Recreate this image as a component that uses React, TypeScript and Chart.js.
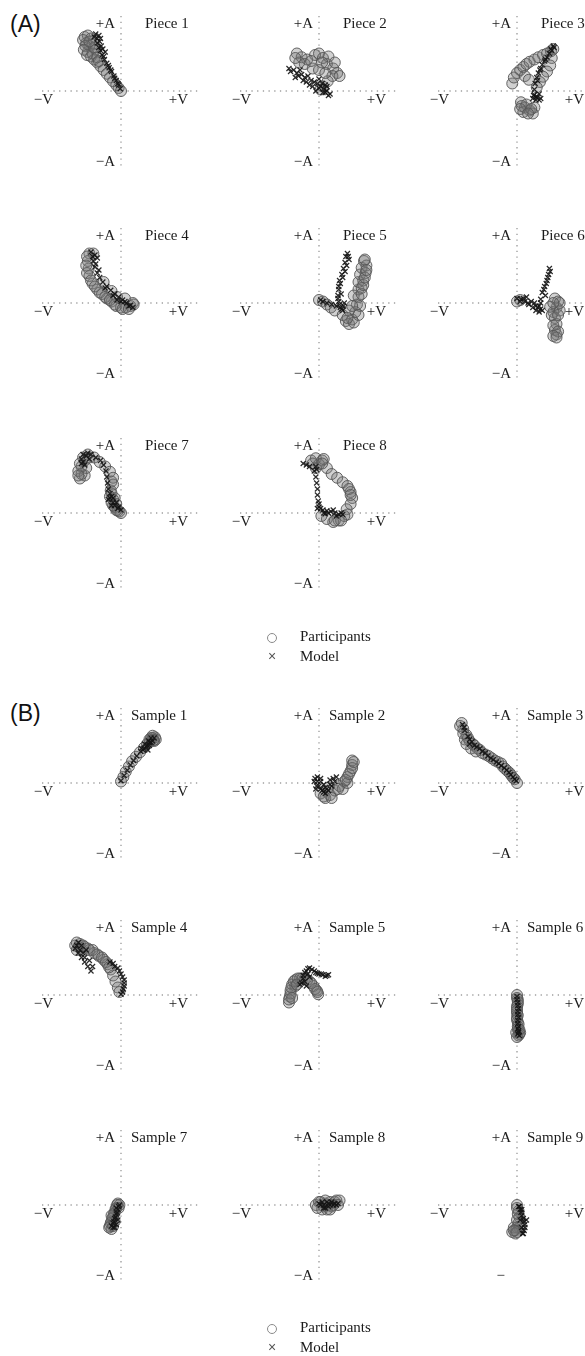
import React, { useEffect, useRef } from 'react';
import { Chart, registerables } from 'chart.js';

Chart.register(...registerables);

// ---- Data: [valence, arousal] pairs, each axis in -1..1 ----
const piece1P = [[-0.46,0.72],[-0.42,0.74],[-0.38,0.7],[-0.44,0.64],[-0.4,0.6],[-0.42,0.52],[-0.38,0.46],[-0.34,0.42],[-0.3,0.38],[-0.26,0.33],[-0.22,0.28],[-0.18,0.23],[-0.14,0.18],[-0.1,0.13],[-0.06,0.08],[-0.03,0.04],[0,0],[-0.36,0.62],[-0.32,0.55],[-0.48,0.68],[-0.45,0.6],[-0.47,0.55],[-0.43,0.48],[-0.36,0.5],[-0.34,0.58],[-0.4,0.66],[-0.3,0.45],[-0.28,0.4]];
const piece1M = [[-0.34,0.72],[-0.3,0.7],[-0.27,0.66],[-0.25,0.6],[-0.26,0.54],[-0.24,0.48],[-0.21,0.42],[-0.18,0.37],[-0.15,0.31],[-0.12,0.26],[-0.09,0.2],[-0.06,0.14],[-0.03,0.08],[-0.01,0.03],[-0.3,0.64],[-0.2,0.52],[-0.32,0.76],[-0.28,0.74],[-0.26,0.7],[-0.23,0.56],[-0.28,0.58],[-0.22,0.46],[-0.16,0.34],[-0.13,0.28],[-0.08,0.17],[-0.04,0.1]];

const piece2P = [[-0.28,0.5],[-0.22,0.45],[-0.15,0.42],[-0.05,0.48],[0.0,0.5],[0.05,0.44],[0.1,0.36],[0.18,0.3],[0.23,0.24],[0.17,0.2],[0.11,0.13],[0.05,0.06],[0.02,0.02],[-0.18,0.36],[-0.08,0.3],[0.0,0.28],[-0.25,0.38],[-0.3,0.44],[0.12,0.46],[0.2,0.38],[0.26,0.2],[0.08,0.24],[-0.1,0.4],[0.04,0.38]];
const piece2M = [[-0.38,0.3],[-0.32,0.28],[-0.28,0.24],[-0.22,0.22],[-0.18,0.18],[-0.14,0.2],[-0.1,0.14],[-0.06,0.12],[-0.02,0.1],[0.02,0.06],[0.06,0.03],[0.1,0.0],[0.14,-0.04],[0.05,-0.02],[-0.12,0.08],[-0.2,0.14],[-0.3,0.18],[0.0,0.16],[0.08,0.08],[-0.36,0.26],[-0.26,0.2],[-0.16,0.12],[-0.08,0.06],[0.0,0.04],[0.08,-0.02],[0.12,-0.06],[-0.04,0.0],[0.04,0.1],[-0.24,0.28],[0.1,0.06]];

const piece3P = [[-0.06,0.1],[-0.04,0.18],[0.0,0.24],[0.04,0.28],[0.08,0.32],[0.12,0.36],[0.16,0.39],[0.22,0.42],[0.27,0.45],[0.33,0.48],[0.38,0.5],[0.43,0.53],[0.46,0.56],[0.44,0.44],[0.42,0.34],[0.38,0.26],[0.33,0.19],[0.29,0.12],[0.25,0.05],[0.1,0.2],[0.15,0.15],[0.05,-0.15],[0.1,-0.22],[0.16,-0.26],[0.22,-0.22],[0.08,-0.28],[0.2,-0.3],[0.06,-0.2],[0.12,-0.18],[0.18,-0.24],[0.04,-0.24],[0.14,-0.3]];
const piece3M = [[0.47,0.58],[0.44,0.54],[0.41,0.5],[0.38,0.45],[0.35,0.4],[0.32,0.35],[0.3,0.3],[0.27,0.24],[0.25,0.18],[0.23,0.1],[0.22,0.02],[0.22,-0.05],[0.26,-0.08],[0.3,-0.1],[0.24,-0.12],[0.28,-0.04],[0.2,-0.1],[0.46,0.6],[0.43,0.56],[0.36,0.42],[0.29,0.28],[0.26,0.14],[0.24,-0.08],[0.28,-0.12],[0.21,-0.06]];

const piece4P = [[-0.4,0.66],[-0.35,0.66],[-0.42,0.56],[-0.41,0.46],[-0.4,0.36],[-0.36,0.26],[-0.3,0.18],[-0.24,0.12],[-0.18,0.06],[-0.12,0.02],[-0.06,-0.04],[0.0,-0.06],[0.06,-0.06],[0.12,-0.04],[0.15,0.0],[-0.22,0.28],[-0.12,0.16],[-0.05,0.08],[0.05,0.06],[-0.43,0.62],[-0.44,0.5],[-0.43,0.4],[-0.38,0.3],[-0.33,0.22],[-0.27,0.14],[-0.2,0.08],[-0.14,0.04],[-0.08,-0.02],[0.02,-0.08],[0.1,-0.08],[0.16,-0.02]];
const piece4M = [[-0.38,0.68],[-0.33,0.64],[-0.35,0.56],[-0.33,0.48],[-0.3,0.4],[-0.27,0.34],[-0.23,0.28],[-0.18,0.22],[-0.13,0.17],[-0.08,0.12],[-0.03,0.08],[0.02,0.04],[0.07,0.0],[0.12,-0.03],[0.15,-0.06],[-0.1,0.1],[-0.05,0.04],[-0.36,0.62],[-0.3,0.6],[-0.32,0.52],[-0.28,0.44],[-0.2,0.2],[0.0,0.02],[0.1,-0.04],[0.05,0.02]];

const piece5P = [[0.0,0.04],[0.05,0.02],[0.1,-0.02],[0.15,-0.06],[0.2,-0.1],[0.3,-0.16],[0.34,-0.24],[0.38,-0.28],[0.42,-0.22],[0.46,-0.12],[0.48,-0.02],[0.5,0.08],[0.5,0.18],[0.5,0.28],[0.52,0.38],[0.54,0.47],[0.57,0.56],[0.6,0.5],[0.59,0.4],[0.56,0.3],[0.54,0.2],[0.44,0.1],[0.38,-0.1],[0.52,-0.04],[0.5,-0.16],[0.44,-0.26],[0.36,-0.2],[0.54,0.12],[0.56,0.24],[0.58,0.34],[0.6,0.44],[0.58,0.58],[0.42,-0.04]];
const piece5M = [[0.36,0.66],[0.38,0.58],[0.35,0.5],[0.33,0.42],[0.3,0.34],[0.27,0.26],[0.25,0.18],[0.24,0.1],[0.25,0.02],[0.27,-0.06],[0.3,-0.1],[0.22,-0.04],[0.16,-0.02],[0.1,0.0],[0.05,0.02],[0.02,0.04],[0.32,0.0],[0.28,0.12],[0.34,0.62],[0.37,0.62],[0.33,0.54],[0.31,0.46],[0.29,0.38],[0.26,0.3],[0.25,0.22],[0.26,-0.02],[0.29,-0.08],[0.24,0.06],[0.31,-0.04]];

const piece6P = [[0.0,0.02],[0.04,0.04],[0.48,0.06],[0.52,0.02],[0.5,-0.06],[0.46,-0.12],[0.48,-0.2],[0.5,-0.28],[0.48,-0.36],[0.5,-0.42],[0.44,-0.16],[0.54,-0.1],[0.42,-0.05],[0.52,-0.16],[0.46,-0.3],[0.52,-0.38],[0.46,-0.44],[0.5,-0.46],[0.54,0.0],[0.46,0.0]];
const piece6M = [[0.0,0.06],[0.05,0.05],[0.1,0.02],[0.15,-0.02],[0.2,-0.06],[0.24,-0.1],[0.28,-0.12],[0.28,-0.04],[0.3,0.05],[0.32,0.14],[0.35,0.22],[0.38,0.3],[0.4,0.38],[0.42,0.42],[0.3,-0.08],[0.22,0.0],[0.12,0.08],[0.36,0.1],[0.04,0.02],[0.08,0.06],[0.18,0.02],[0.26,-0.06],[0.32,-0.1],[0.34,0.18],[0.37,0.26],[0.39,0.34],[0.41,0.46],[0.24,-0.04],[0.14,0.0],[0.3,0.0]];

const piece7P = [[-0.52,0.46],[-0.54,0.56],[-0.52,0.66],[-0.48,0.74],[-0.42,0.78],[-0.34,0.74],[-0.27,0.68],[-0.2,0.62],[-0.14,0.55],[-0.1,0.47],[-0.1,0.38],[-0.13,0.3],[-0.14,0.22],[-0.12,0.14],[-0.08,0.08],[-0.04,0.03],[0,0],[-0.46,0.5],[-0.44,0.6],[-0.08,0.2],[-0.5,0.52],[-0.5,0.62],[-0.46,0.7],[-0.54,0.5],[-0.4,0.74],[-0.12,0.42],[-0.12,0.26],[-0.1,0.18],[-0.06,0.12],[-0.02,0.02],[-0.06,0.04],[-0.1,0.1]];
const piece7M = [[-0.5,0.72],[-0.44,0.76],[-0.38,0.78],[-0.32,0.74],[-0.26,0.7],[-0.22,0.64],[-0.19,0.56],[-0.18,0.48],[-0.17,0.4],[-0.16,0.32],[-0.14,0.26],[-0.1,0.2],[-0.06,0.14],[-0.03,0.08],[0,0.04],[-0.46,0.64],[-0.12,0.1],[-0.16,0.18],[-0.48,0.78],[-0.42,0.8],[-0.48,0.68],[-0.5,0.66],[-0.4,0.72],[-0.12,0.22],[-0.1,0.14],[-0.08,0.1],[-0.04,0.06],[-0.14,0.2]];

const piece8P = [[-0.1,0.7],[-0.04,0.73],[0.04,0.7],[0.1,0.6],[0.16,0.52],[0.23,0.47],[0.3,0.41],[0.36,0.36],[0.4,0.28],[0.42,0.2],[0.4,0.12],[0.35,0.05],[0.32,-0.04],[0.25,-0.1],[0.18,-0.12],[0.1,-0.08],[0.03,-0.04],[-0.04,0.6],[0.0,0.65],[-0.08,0.66],[0.06,0.72],[0.04,0.66],[0.38,0.32],[0.4,0.24],[0.36,-0.02],[0.28,-0.1],[0.2,-0.1]];
const piece8M = [[-0.2,0.66],[-0.12,0.62],[-0.06,0.56],[-0.04,0.48],[-0.03,0.4],[-0.02,0.32],[-0.02,0.24],[-0.01,0.16],[0.0,0.08],[0.05,0.04],[0.1,0.03],[0.15,0.02],[0.2,0.0],[0.25,-0.02],[0.3,-0.02],[-0.02,0.06],[0.08,-0.01],[-0.04,0.62],[-0.03,0.58],[0.02,0.06],[0.12,0.0],[0.18,0.04],[0.22,-0.04],[0.28,0.0],[0.06,0.0],[0.0,0.12],[-0.16,0.64]];

const sample1P = [[0.0,0.02],[0.03,0.08],[0.06,0.15],[0.1,0.22],[0.14,0.29],[0.19,0.35],[0.24,0.41],[0.29,0.47],[0.33,0.52],[0.37,0.56],[0.4,0.6],[0.43,0.61],[0.38,0.6],[0.42,0.56],[0.4,0.63],[0.44,0.58],[0.36,0.58],[0.41,0.57]];
const sample1M = [[0.0,0.03],[0.04,0.1],[0.08,0.17],[0.12,0.24],[0.16,0.3],[0.2,0.36],[0.25,0.42],[0.29,0.46],[0.33,0.5],[0.36,0.54],[0.4,0.56],[0.3,0.52],[0.38,0.6],[0.34,0.44],[0.35,0.56],[0.38,0.54],[0.32,0.48],[0.28,0.44],[0.42,0.6],[0.26,0.46],[0.36,0.5]];

const sample2P = [[0.08,-0.2],[0.14,-0.16],[0.2,-0.1],[0.26,-0.04],[0.32,0.02],[0.36,0.08],[0.4,0.16],[0.42,0.24],[0.42,0.3],[0.3,-0.08],[0.36,0.0],[0.02,-0.14],[0.12,-0.06],[0.06,-0.18],[0.16,-0.2],[0.24,-0.08],[0.34,0.04],[0.38,0.12],[0.42,0.2],[0.44,0.28]];
const sample2M = [[-0.05,0.06],[-0.02,0.02],[0.0,-0.04],[0.04,-0.1],[0.08,-0.14],[0.12,-0.1],[0.16,-0.04],[0.2,0.02],[0.22,0.08],[-0.04,-0.08],[0.06,-0.02],[0.14,0.04],[0.02,0.06],[-0.06,0.02],[-0.03,-0.04],[0.02,-0.08],[0.06,-0.12],[0.1,-0.08],[0.14,-0.02],[0.18,0.06],[0.02,0.02],[0.08,-0.06],[-0.02,0.08]];

const sample3P = [[-0.7,0.8],[-0.68,0.72],[-0.64,0.64],[-0.6,0.56],[-0.54,0.5],[-0.47,0.44],[-0.4,0.38],[-0.32,0.33],[-0.24,0.28],[-0.18,0.22],[-0.12,0.16],[-0.07,0.1],[-0.03,0.05],[0,0.0],[-0.58,0.46],[-0.66,0.58],[-0.72,0.76],[-0.68,0.66],[-0.62,0.6],[-0.56,0.52],[-0.5,0.46],[-0.44,0.4],[-0.36,0.36],[-0.28,0.3],[-0.2,0.26],[-0.15,0.19],[-0.09,0.13],[-0.05,0.07],[-0.64,0.52],[-0.52,0.42]];
const sample3M = [[-0.69,0.78],[-0.66,0.7],[-0.62,0.62],[-0.57,0.55],[-0.51,0.48],[-0.44,0.42],[-0.37,0.36],[-0.3,0.31],[-0.23,0.26],[-0.16,0.2],[-0.1,0.14],[-0.05,0.08],[-0.01,0.03],[-0.67,0.74],[-0.6,0.58],[-0.54,0.5],[-0.47,0.46],[-0.4,0.4],[-0.33,0.33],[-0.26,0.28],[-0.2,0.23],[-0.13,0.17],[-0.08,0.11],[-0.03,0.05],[-0.6,0.52]];

const sample4P = [[-0.58,0.66],[-0.52,0.68],[-0.46,0.64],[-0.4,0.6],[-0.34,0.56],[-0.28,0.52],[-0.22,0.47],[-0.17,0.41],[-0.13,0.34],[-0.1,0.26],[-0.07,0.18],[-0.04,0.1],[-0.02,0.04],[-0.5,0.6],[-0.56,0.7],[-0.54,0.64],[-0.48,0.66],[-0.42,0.62],[-0.36,0.6],[-0.3,0.54],[-0.24,0.5],[-0.56,0.6],[-0.19,0.44],[-0.15,0.37]];
const sample4M = [[-0.58,0.62],[-0.54,0.56],[-0.5,0.5],[-0.46,0.44],[-0.42,0.38],[-0.38,0.32],[-0.14,0.44],[-0.08,0.38],[-0.02,0.32],[0.02,0.24],[0.04,0.16],[0.03,0.08],[0.0,0.01],[-0.5,0.66],[-0.44,0.6],[-0.56,0.66],[-0.54,0.7],[-0.52,0.6],[-0.48,0.56],[-0.46,0.5],[-0.4,0.46],[-0.36,0.38],[-0.1,0.42],[-0.04,0.36],[0.0,0.28],[0.04,0.2],[0.04,0.12],[0.02,0.04]];

const sample5P = [[-0.38,-0.1],[-0.37,-0.02],[-0.36,0.06],[-0.34,0.14],[-0.3,0.2],[-0.24,0.22],[-0.18,0.22],[-0.12,0.18],[-0.07,0.12],[-0.03,0.06],[-0.01,0.01],[-0.3,0.12],[-0.38,-0.06],[-0.36,0.02],[-0.35,0.1],[-0.32,0.18],[-0.27,0.22],[-0.21,0.22],[-0.15,0.2],[-0.1,0.16],[-0.05,0.08],[-0.34,-0.04],[-0.28,0.14],[-0.02,0.04]];
const sample5M = [[-0.22,0.16],[-0.2,0.22],[-0.18,0.3],[-0.14,0.35],[-0.09,0.34],[-0.04,0.3],[0.0,0.28],[0.05,0.27],[0.1,0.26],[-0.12,0.24],[-0.16,0.12],[-0.2,0.26],[-0.16,0.32],[-0.12,0.36],[-0.06,0.32],[-0.02,0.29],[0.03,0.28],[0.08,0.25],[0.12,0.27],[-0.18,0.18],[-0.14,0.28],[-0.24,0.14]];

const sample6P = [[0.0,0.0],[0.01,-0.06],[0.01,-0.12],[0.0,-0.18],[0.0,-0.24],[0.0,-0.3],[0.01,-0.36],[0.01,-0.42],[0.02,-0.48],[0.02,-0.54],[-0.01,-0.5],[0.04,-0.5],[0.0,-0.04],[0.01,-0.09],[0.0,-0.15],[0.0,-0.21],[0.01,-0.27],[0.0,-0.33],[0.02,-0.39],[0.01,-0.45],[0.03,-0.52],[0.0,-0.56],[0.03,-0.46]];
const sample6M = [[0.0,-0.02],[0.01,-0.1],[0.02,-0.18],[0.01,-0.26],[0.01,-0.34],[0.02,-0.42],[0.02,-0.48],[0.01,-0.52],[0.0,-0.06],[0.01,-0.14],[0.01,-0.22],[0.02,-0.3],[0.01,-0.38],[0.01,-0.45],[0.02,-0.5],[0.03,-0.54]];

const sample7P = [[-0.04,0.02],[-0.06,-0.04],[-0.08,-0.1],[-0.1,-0.16],[-0.12,-0.22],[-0.14,-0.28],[-0.12,-0.32],[-0.02,0.0],[-0.05,0.0],[-0.07,-0.06],[-0.09,-0.12],[-0.11,-0.18],[-0.13,-0.24],[-0.15,-0.3],[-0.1,-0.28],[-0.08,-0.22],[-0.03,-0.04],[-0.12,-0.14]];
const sample7M = [[-0.02,0.0],[-0.04,-0.06],[-0.06,-0.12],[-0.08,-0.18],[-0.1,-0.24],[-0.1,-0.3],[-0.06,-0.26],[-0.03,-0.02],[-0.05,-0.1],[-0.07,-0.16],[-0.09,-0.22],[-0.12,-0.28],[-0.08,-0.3],[-0.04,-0.2],[-0.06,-0.04]];

const sample8P = [[-0.04,0.0],[0.02,0.04],[0.08,0.02],[0.14,0.04],[0.2,0.04],[0.26,0.06],[0.1,-0.06],[0.04,-0.06],[0.16,-0.02],[0.0,0.04],[0.06,-0.02],[0.12,0.0],[0.18,0.0],[0.22,0.06],[0.24,0.0],[0.08,0.06],[0.14,-0.06],[-0.02,-0.04]];
const sample8M = [[0.0,0.02],[0.06,0.0],[0.12,0.02],[0.18,0.0],[0.24,0.02],[0.08,-0.04],[0.02,0.0],[0.04,0.04],[0.1,0.04],[0.14,0.0],[0.2,0.02],[0.16,0.04],[0.06,-0.04],[0.12,-0.02],[0.22,0.0]];

const sample9P = [[0.0,0.0],[0.02,-0.08],[0.03,-0.16],[0.02,-0.24],[0.0,-0.3],[-0.02,-0.34],[0.03,-0.3],[-0.04,-0.3],[-0.06,-0.36],[-0.02,-0.38],[0.0,-0.36],[-0.04,-0.34],[0.0,-0.2],[0.01,-0.12],[0.0,-0.04]];
const sample9M = [[0.02,-0.02],[0.05,-0.1],[0.08,-0.18],[0.1,-0.26],[0.09,-0.34],[0.07,-0.38],[0.04,-0.06],[0.06,-0.14],[0.09,-0.22],[0.1,-0.3],[0.08,-0.38],[0.06,-0.3],[0.04,-0.2],[0.03,-0.02],[0.12,-0.2],[0.06,-0.06]];

const pieceTitles = ['Piece 1','Piece 2','Piece 3','Piece 4','Piece 5','Piece 6','Piece 7','Piece 8'];
const sampleTitles = ['Sample 1','Sample 2','Sample 3','Sample 4','Sample 5','Sample 6','Sample 7','Sample 8','Sample 9'];
const axisLabels = { top: '+A', bottom: '\u2212A', left: '\u2212V', right: '+V' };
const legendLabels = ['Participants', 'Model'];

const pieceData = [[piece1P,piece1M],[piece2P,piece2M],[piece3P,piece3M],[piece4P,piece4M],[piece5P,piece5M],[piece6P,piece6M],[piece7P,piece7M],[piece8P,piece8M]];
const sampleData = [[sample1P,sample1M],[sample2P,sample2M],[sample3P,sample3M],[sample4P,sample4M],[sample5P,sample5M],[sample6P,sample6M],[sample7P,sample7M],[sample8P,sample8M],[sample9P,sample9M]];

// ---- Layout ----
const COLS = [121, 319, 517];
const ROWS_A = [91, 303, 513];
const ROWS_B = [783, 995, 1205];
const SERIF = '"Liberation Serif", "DejaVu Serif", serif';
const SANS = '"Liberation Sans", Arial, sans-serif';
const CW = 200, CH = 190;

type PanelProps = { title: string; titleDx: number; cx: number; cy: number; part: number[][]; model: number[][]; truncated?: boolean };

function Panel({ title, titleDx, cx, cy, part, model, truncated }: PanelProps) {
  const ref = useRef<HTMLCanvasElement | null>(null);
  useEffect(() => {
    const decor = {
      id: 'decor',
      beforeDatasetsDraw(chart: any) {
        const { ctx } = chart;
        const xs = chart.scales.x, ys = chart.scales.y;
        const x0 = xs.getPixelForValue(0), y0 = ys.getPixelForValue(0);
        ctx.save();
        ctx.strokeStyle = '#a0a0a0';
        ctx.lineWidth = 1.4;
        ctx.setLineDash([1.3, 4.4]);
        ctx.beginPath();
        ctx.moveTo(x0, ys.getPixelForValue(1));
        ctx.lineTo(x0, ys.getPixelForValue(truncated ? -0.5 : -1));
        ctx.moveTo(xs.getPixelForValue(-1), y0);
        ctx.lineTo(xs.getPixelForValue(1), y0);
        ctx.stroke();
        ctx.restore();
      },
      afterDraw(chart: any) {
        const { ctx } = chart;
        const x0 = chart.scales.x.getPixelForValue(0), y0 = chart.scales.y.getPixelForValue(0);
        ctx.save();
        ctx.fillStyle = '#1a1a1a';
        ctx.font = `15px ${SERIF}`;
        ctx.textBaseline = 'middle';
        ctx.textAlign = 'right';
        ctx.fillText(axisLabels.top, x0 - 6, y0 - 67);
        ctx.fillText(truncated ? '\u2212' : axisLabels.bottom, truncated ? x0 - 12 : x0 - 6, y0 + 71);
        ctx.fillText(axisLabels.left, x0 - 68, y0 + 9);
        ctx.fillText(axisLabels.right, x0 + 67, y0 + 9);
        ctx.textAlign = 'left';
        ctx.fillText(title, x0 + titleDx, y0 - 67);
        ctx.restore();
      },
    };
    const chart = new Chart(ref.current as HTMLCanvasElement, {
      type: 'scatter',
      data: {
        datasets: [
          {
            label: legendLabels[0],
            data: part.map(([x, y]) => ({ x, y })),
            pointStyle: 'circle',
            pointRadius: 5.5,
            pointBorderWidth: 1,
            pointBorderColor: 'rgba(85,85,85,0.9)',
            pointBackgroundColor: 'rgba(115,115,115,0.33)',
            order: 1,
          },
          {
            label: legendLabels[1],
            data: model.map(([x, y]) => ({ x, y })),
            pointStyle: 'crossRot',
            pointRadius: 3.6,
            pointBorderWidth: 1.2,
            pointBorderColor: 'rgba(20,20,20,0.9)',
            order: 0,
          },
        ],
      } as any,
      options: {
        animation: false,
        responsive: false,
        devicePixelRatio: 1,
        events: [],
        layout: { padding: { left: 21, right: 21, top: 15, bottom: 25 } },
        scales: {
          x: { type: 'linear', min: -1, max: 1, display: false },
          y: { type: 'linear', min: -1, max: 1, display: false },
        },
        plugins: { legend: { display: false }, tooltip: { enabled: false } },
      } as any,
      plugins: [decor],
    });
    return () => chart.destroy();
  }, []);
  return (
    <canvas
      ref={ref}
      width={CW}
      height={CH}
      style={{ position: 'absolute', left: cx - 100, top: cy - 90, width: CW, height: CH }}
    />
  );
}

function Legend({ top }: { top: number }) {
  return (
    <>
      <div style={{ position: 'absolute', left: 267, top: top - 5, width: 10, height: 10, borderRadius: '50%', border: '1px solid #8a8a8a', boxSizing: 'border-box' }} />
      <div style={{ position: 'absolute', left: 300, top: top - 10, height: 20, lineHeight: '20px', font: `15px ${SERIF}`, color: '#1a1a1a' }}>{legendLabels[0]}</div>
      <div style={{ position: 'absolute', left: 265, top: top + 10, width: 14, height: 20, lineHeight: '20px', textAlign: 'center', font: `14px ${SANS}`, color: '#555' }}>×</div>
      <div style={{ position: 'absolute', left: 300, top: top + 10, height: 20, lineHeight: '20px', font: `15px ${SERIF}`, color: '#1a1a1a' }}>{legendLabels[1]}</div>
    </>
  );
}

export default function App() {
  return (
    <div style={{ position: 'absolute', left: 0, top: 0, width: 585, height: 1356, overflow: 'hidden', background: '#fff' }}>
      <div style={{ position: 'absolute', left: 10, top: 9, font: `23px ${SANS}`, color: '#111', lineHeight: '30px' }}>(A)</div>
      {pieceData.map(([p, m], i) => (
        <Panel key={'p' + i} title={pieceTitles[i]} titleDx={24} cx={COLS[i % 3]} cy={ROWS_A[Math.floor(i / 3)]} part={p} model={m} />
      ))}
      <Legend top={638} />
      <div style={{ position: 'absolute', left: 10, top: 698, font: `23px ${SANS}`, color: '#111', lineHeight: '30px' }}>(B)</div>
      {sampleData.map(([p, m], i) => (
        <Panel key={'s' + i} title={sampleTitles[i]} titleDx={10} cx={COLS[i % 3]} cy={ROWS_B[Math.floor(i / 3)]} part={p} model={m} truncated={i === 8} />
      ))}
      <Legend top={1329} />
    </div>
  );
}
